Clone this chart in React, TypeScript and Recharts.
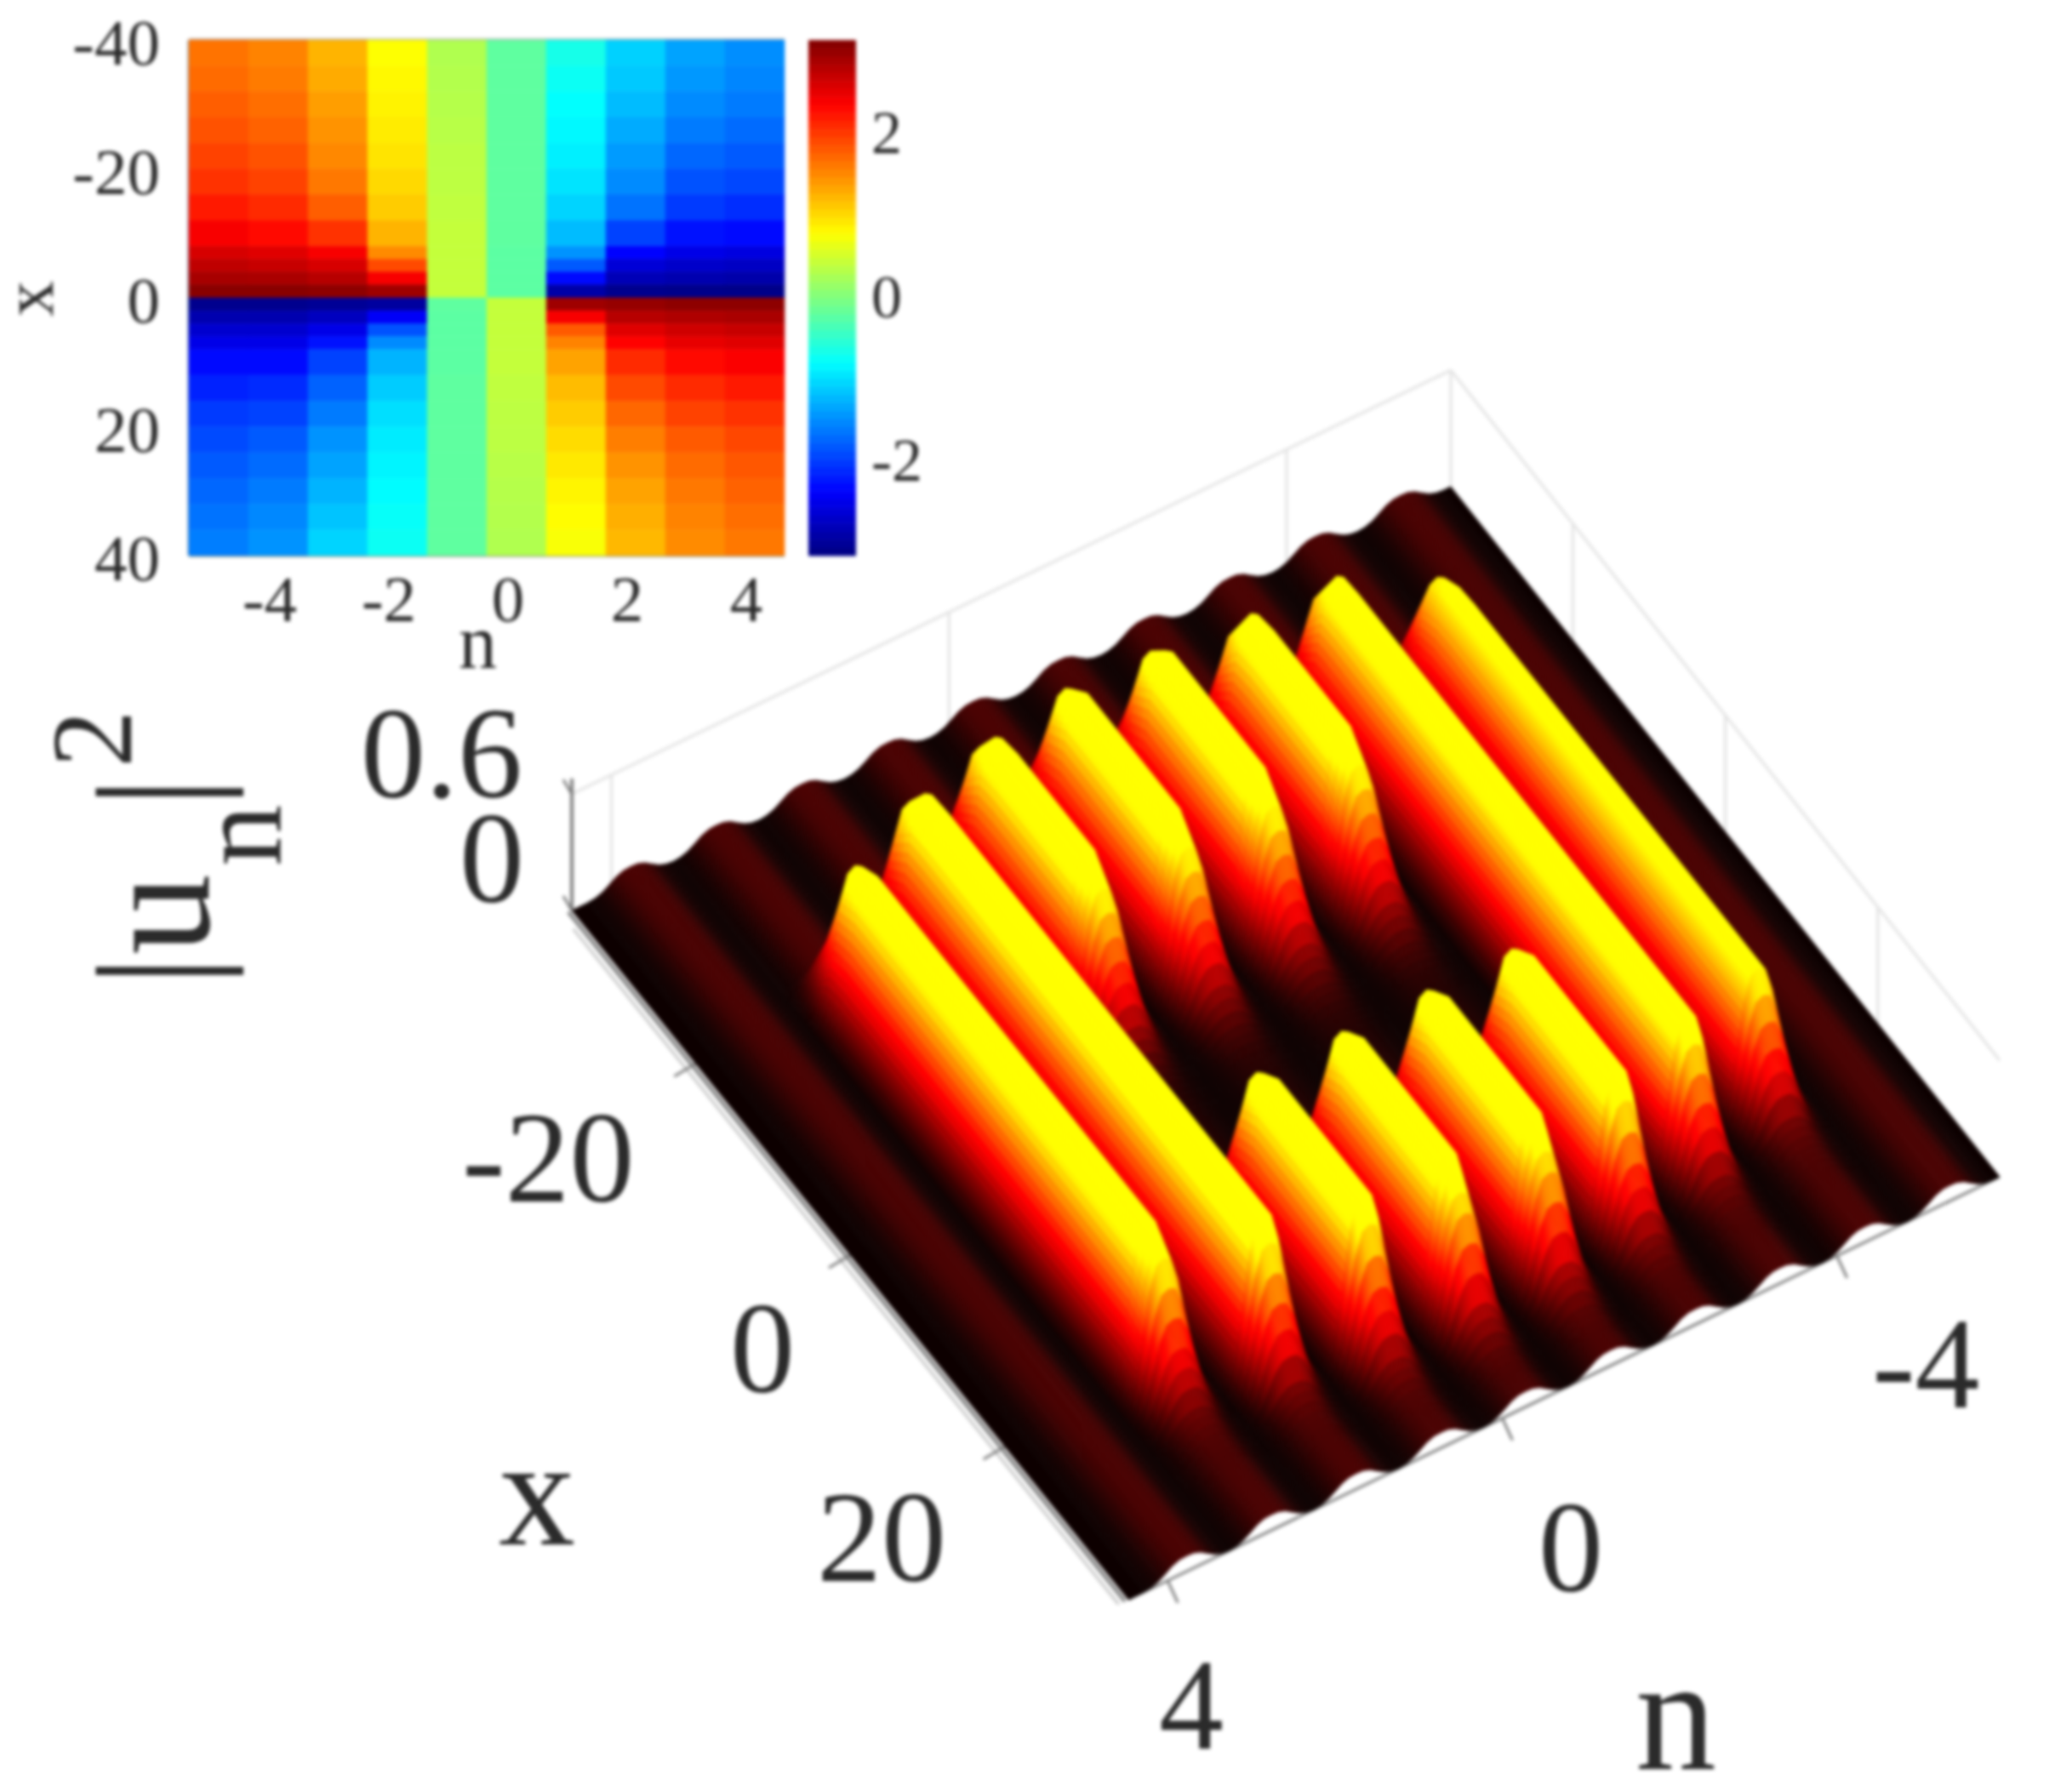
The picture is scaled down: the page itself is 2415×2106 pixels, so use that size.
import {
  ScatterChart,
  Scatter,
  XAxis,
  YAxis,
  ReferenceLine,
} from 'recharts';

// phase map: x rows (centre, height) and one column of phase per lattice site
const phaseRowX = [-38, -34, -30, -26, -22, -18, -14, -10, -7, -5, -3, -1, 1, 3, 5, 7, 10, 14, 18, 22, 26, 30, 34, 38];
const phaseRowH = [4, 4, 4, 4, 4, 4, 4, 4, 2, 2, 2, 2, 2, 2, 2, 2, 4, 4, 4, 4, 4, 4, 4, 4];
const phaseSites = [-5, -4, -3, -2, -1, 0, 1, 2, 3, 4];
const phaseColumns = [
  [1.65, 1.7, 1.78, 1.85, 1.95, 2.05, 2.2, 2.4, 2.6, 2.75, 2.9, 3.08, -3.05, -2.85, -2.65, -2.5, -2.3, -2.15, -2.0, -1.9, -1.8, -1.72, -1.65, -1.58],
  [1.55, 1.6, 1.68, 1.75, 1.85, 1.95, 2.1, 2.3, 2.55, 2.7, 2.88, 3.08, -3.05, -2.85, -2.65, -2.5, -2.3, -2.1, -1.95, -1.8, -1.7, -1.6, -1.52, -1.45],
  [1.25, 1.3, 1.38, 1.45, 1.52, 1.62, 1.78, 2.05, 2.4, 2.6, 2.8, 3.05, -3.0, -2.75, -2.5, -2.25, -1.95, -1.75, -1.6, -1.45, -1.35, -1.25, -1.15, -1.05],
  [0.78, 0.82, 0.86, 0.9, 0.95, 1.02, 1.1, 1.25, 1.5, 1.9, 2.4, 2.95, -2.95, -2.4, -1.85, -1.5, -1.25, -1.1, -0.98, -0.9, -0.85, -0.8, -0.75, -0.72],
  [0.3, 0.32, 0.33, 0.35, 0.37, 0.38, 0.4, 0.42, 0.42, 0.42, 0.42, 0.42, -0.2, -0.22, -0.22, -0.22, -0.22, -0.2, -0.2, -0.2, -0.2, -0.2, -0.2, -0.2],
  [-0.2, -0.2, -0.2, -0.2, -0.2, -0.2, -0.2, -0.2, -0.22, -0.22, -0.22, -0.22, 0.42, 0.42, 0.42, 0.42, 0.42, 0.4, 0.38, 0.37, 0.35, 0.33, 0.32, 0.3],
  [-0.65, -0.72, -0.78, -0.82, -0.88, -0.95, -1.05, -1.2, -1.45, -1.8, -2.3, -2.9, 2.95, 2.4, 1.8, 1.55, 1.35, 1.2, 1.1, 1.0, 0.92, 0.85, 0.8, 0.75],
  [-1.07, -1.12, -1.2, -1.3, -1.4, -1.5, -1.65, -1.95, -2.35, -2.6, -2.8, -3.05, 3.0, 2.8, 2.55, 2.35, 2.1, 1.9, 1.72, 1.58, 1.45, 1.35, 1.28, 1.22],
  [-1.35, -1.42, -1.5, -1.6, -1.72, -1.85, -2.0, -2.25, -2.5, -2.68, -2.85, -3.07, 3.05, 2.85, 2.65, 2.5, 2.3, 2.1, 1.95, 1.8, 1.7, 1.62, 1.55, 1.5],
  [-1.48, -1.53, -1.6, -1.7, -1.8, -1.92, -2.08, -2.3, -2.55, -2.72, -2.88, -3.08, 3.05, 2.88, 2.7, 2.55, 2.38, 2.2, 2.05, 1.92, 1.82, 1.75, 1.68, 1.62],
];
const phaseTicksN = [-4, -2, 0, 2, 4];
const phaseTicksX = [-40, -20, 0, 20, 40];
const phaseBarTicks = [-2, 0, 2];

// surface: peak |u_n|^2 of each site (n = 4 down to -5) along x
const surfaceX = [-36, -34, -32, -30, -28, -26, -24, -22, -20, -18, -16, -14, -12, -10, -8, -6, -4, -2, 0, 2, 4, 6, 8, 10, 12, 14, 16, 18, 20, 22, 24, 26, 28, 30, 32, 34, 36];
const surfaceRows = [
  [0.08, 0.08, 0.08, 0.08, 0.08, 0.08, 0.08, 0.08, 0.08, 0.08, 0.08, 0.08, 0.08, 0.08, 0.08, 0.08, 0.08, 0.08, 0.08, 0.08, 0.08, 0.08, 0.08, 0.08, 0.08, 0.08, 0.08, 0.08, 0.08, 0.08, 0.08, 0.08, 0.08, 0.08, 0.08, 0.08, 0.08],
  [0.08, 0.08, 0.08, 0.08, 0.08, 0.08, 0.08, 0.08, 0.36, 0.76, 0.81, 0.81, 0.81, 0.81, 0.81, 0.81, 0.81, 0.81, 0.81, 0.81, 0.81, 0.81, 0.81, 0.81, 0.81, 0.81, 0.81, 0.81, 0.81, 0.71, 0.34, 0.13, 0.09, 0.08, 0.08, 0.08, 0.08],
  [0.08, 0.08, 0.08, 0.08, 0.08, 0.08, 0.2, 0.68, 0.82, 0.83, 0.83, 0.83, 0.83, 0.83, 0.83, 0.83, 0.83, 0.83, 0.83, 0.83, 0.83, 0.83, 0.83, 0.83, 0.83, 0.83, 0.83, 0.83, 0.83, 0.83, 0.83, 0.46, 0.15, 0.09, 0.08, 0.08, 0.08],
  [0.08, 0.08, 0.08, 0.08, 0.08, 0.25, 0.65, 0.8, 0.82, 0.82, 0.82, 0.82, 0.82, 0.82, 0.71, 0.43, 0.19, 0.08, 0.04, 0.03, 0.03, 0.03, 0.03, 0.3, 0.75, 0.82, 0.82, 0.82, 0.82, 0.82, 0.82, 0.82, 0.43, 0.16, 0.09, 0.08, 0.08],
  [0.08, 0.08, 0.08, 0.08, 0.08, 0.38, 0.74, 0.82, 0.82, 0.82, 0.82, 0.82, 0.82, 0.82, 0.71, 0.43, 0.19, 0.08, 0.04, 0.03, 0.03, 0.03, 0.03, 0.3, 0.75, 0.82, 0.82, 0.82, 0.82, 0.82, 0.82, 0.82, 0.6, 0.23, 0.1, 0.08, 0.08],
  [0.08, 0.08, 0.08, 0.08, 0.08, 0.35, 0.72, 0.82, 0.82, 0.82, 0.82, 0.82, 0.82, 0.82, 0.71, 0.43, 0.19, 0.08, 0.04, 0.03, 0.03, 0.03, 0.03, 0.3, 0.75, 0.82, 0.82, 0.82, 0.82, 0.82, 0.82, 0.82, 0.6, 0.23, 0.1, 0.08, 0.08],
  [0.08, 0.08, 0.08, 0.08, 0.08, 0.2, 0.62, 0.8, 0.82, 0.82, 0.82, 0.82, 0.82, 0.82, 0.71, 0.43, 0.19, 0.08, 0.04, 0.03, 0.03, 0.03, 0.03, 0.3, 0.75, 0.82, 0.82, 0.82, 0.82, 0.82, 0.82, 0.82, 0.43, 0.16, 0.09, 0.08, 0.08],
  [0.08, 0.08, 0.08, 0.08, 0.08, 0.15, 0.6, 0.78, 0.79, 0.79, 0.79, 0.79, 0.79, 0.79, 0.79, 0.79, 0.79, 0.79, 0.79, 0.79, 0.79, 0.79, 0.79, 0.79, 0.79, 0.79, 0.79, 0.79, 0.79, 0.79, 0.79, 0.43, 0.15, 0.09, 0.08, 0.08, 0.08],
  [0.08, 0.08, 0.08, 0.08, 0.08, 0.08, 0.08, 0.38, 0.66, 0.71, 0.72, 0.72, 0.72, 0.72, 0.72, 0.72, 0.72, 0.72, 0.72, 0.72, 0.72, 0.72, 0.72, 0.72, 0.72, 0.72, 0.72, 0.72, 0.72, 0.72, 0.4, 0.14, 0.09, 0.08, 0.08, 0.08, 0.08],
  [0.08, 0.08, 0.08, 0.08, 0.08, 0.08, 0.08, 0.08, 0.08, 0.08, 0.08, 0.08, 0.08, 0.08, 0.08, 0.08, 0.08, 0.08, 0.08, 0.08, 0.08, 0.08, 0.08, 0.08, 0.08, 0.08, 0.08, 0.08, 0.08, 0.08, 0.08, 0.08, 0.08, 0.08, 0.08, 0.08, 0.08],
];
// share of a site's peak across the site, edge to edge
const siteProfile = [0, 0.06, 0.22, 0.5, 0.8, 0.97, 1, 0.97, 0.8, 0.5, 0.22, 0.06, 0];
const surfaceTicksX = [-20, 0, 20];
const surfaceTicksN = [-4, 0, 4];
const surfaceTicksZ = [0, 0.6];

const FONT = '"Liberation Serif", serif';
const TEXT = '#2b2b2b';

// screen corners of the surface floor
const A = [672, 1070]; // n max, x min
const B = [1326, 1880]; // n max, x max
const C = [2350, 1383]; // n min, x max
const D = [1705, 572]; // n min, x min
const Z_PX = 228;
const BAND_STEPS = 5;
const X_STEPS = 3;

function project(s: number, t: number, z: number) {
  const sx = A[0] * (1 - s) * (1 - t) + B[0] * (1 - s) * t + D[0] * s * (1 - t) + C[0] * s * t;
  const sy = A[1] * (1 - s) * (1 - t) + B[1] * (1 - s) * t + D[1] * s * (1 - t) + C[1] * s * t;
  return { sx, sy: sy - z * Z_PX };
}
const xToT = (x: number) => (x + 36) / 72;
const nToS = (n: number) => (4.47 - n) * 0.096;

function hot(f: number) {
  const r = Math.min(1, 0.05 + f / 0.375);
  const g = Math.max(0, Math.min(1, (f - 0.375) / 0.375));
  return `rgb(${Math.round(r * 255)},${Math.round(g * 255)},0)`;
}

function jet(v: number) {
  const f = (v + Math.PI) / (2 * Math.PI);
  const ramp = (c: number) => Math.max(0, Math.min(1, 1.5 - Math.abs(4 * f - c)));
  return `rgb(${Math.round(ramp(3) * 255)},${Math.round(ramp(2) * 255)},${Math.round(ramp(1) * 255)})`;
}

// one quad of the surface, from its two x ends on two columns
function pushCell(cells: any[], sNear: number, sFar: number, x0: number, x1: number, z: number[]) {
  const corners = [
    project(sNear, xToT(x0), z[0]),
    project(sNear, xToT(x1), z[1]),
    project(sFar, xToT(x1), z[2]),
    project(sFar, xToT(x0), z[3]),
  ];
  const mean = (z[0] + z[1] + z[2] + z[3]) / 4;
  const { sx, sy } = corners[0];
  cells.push({
    sx,
    sy,
    fill: hot(Math.min(0.75, (0.92 * mean) / 0.83)),
    offsets: corners.map((p) => `${(p.sx - sx).toFixed(1)},${(p.sy - sy).toFixed(1)}`).join(' '),
  });
}

// painter's order: far site first, low x first
function buildSurfaceCells() {
  const cells: any[] = [];
  const first = 0.067 - 0.0973 / 2;
  const last = 0.067 + 0.0973 * 9.5;
  pushCell(cells, last, 1, -36, 36, [0, 0, 0, 0]);
  for (let k = surfaceRows.length - 1; k >= 0; k--) {
    const row = surfaceRows[k];
    for (let band = siteProfile.length - 2; band >= 0; band--) {
      for (let b = BAND_STEPS - 1; b >= 0; b--) {
        const shareAt = (q: number) => siteProfile[band] + (siteProfile[band + 1] - siteProfile[band]) * q;
        const shareNear = shareAt(b / BAND_STEPS);
        const shareFar = shareAt((b + 1) / BAND_STEPS);
        const sAt = (q: number) => 0.067 + 0.0973 * (k + (band + q - 6) / 12);
        const sNear = sAt(b / BAND_STEPS);
        const sFar = sAt((b + 1) / BAND_STEPS);
        let i = 0;
        while (i < row.length - 1) {
          if (row[i] === row[i + 1]) {
            let j = i + 1;
            while (j < row.length - 1 && row[j + 1] === row[i]) j++;
            pushCell(cells, sNear, sFar, surfaceX[i], surfaceX[j], [
              row[i] * shareNear,
              row[i] * shareNear,
              row[i] * shareFar,
              row[i] * shareFar,
            ]);
            i = j;
          } else {
            for (let q = 0; q < X_STEPS; q++) {
              const span = surfaceX[i + 1] - surfaceX[i];
              const p0 = row[i] + ((row[i + 1] - row[i]) * q) / X_STEPS;
              const p1 = row[i] + ((row[i + 1] - row[i]) * (q + 1)) / X_STEPS;
              pushCell(cells, sNear, sFar, surfaceX[i] + (span * q) / X_STEPS, surfaceX[i] + (span * (q + 1)) / X_STEPS, [
                p0 * shareNear,
                p1 * shareNear,
                p1 * shareFar,
                p0 * shareFar,
              ]);
            }
            i++;
          }
        }
      }
    }
  }
  pushCell(cells, 0, first, -36, 36, [0, 0, 0, 0]);
  return cells;
}

const surfaceCells = buildSurfaceCells();

const phaseCells = phaseSites.flatMap((n, c) =>
  phaseRowX.map((x, r) => ({ n, x, height: phaseRowH[r], phase: phaseColumns[c][r] })),
);
const barLevels = Array.from({ length: 64 }, (_, i) => -Math.PI + ((i + 0.5) * 2 * Math.PI) / 64);

const PHASE_W = 700;
const PHASE_H = 606;

function SurfaceCell(props: any) {
  const { cx, cy, payload } = props;
  return (
    <polygon
      transform={`translate(${cx},${cy})`}
      points={payload.offsets}
      fill={payload.fill}
      stroke={payload.fill}
      strokeWidth={0.8}
    />
  );
}

function PhaseCell(props: any) {
  const { cx, cy, payload } = props;
  const w = PHASE_W / 10;
  const h = (payload.height * PHASE_H) / 80;
  const fill = jet(payload.phase);
  return <rect x={cx - w / 2} y={cy - h / 2} width={w} height={h} fill={fill} stroke={fill} strokeWidth={0.5} />;
}

function BarLevel(props: any) {
  const { cx, cy, payload } = props;
  const h = PHASE_H / 64;
  const fill = jet(payload.level);
  return <rect x={cx - 28} y={cy - h / 2} width={56} height={h + 0.5} fill={fill} />;
}

function seg(a: { sx: number; sy: number }, b: { sx: number; sy: number }) {
  return [
    { x: a.sx, y: a.sy },
    { x: b.sx, y: b.sy },
  ] as any;
}

function Big({ x, y, size = 152, children }: any) {
  return (
    <text x={x} y={y} fontSize={size} fontFamily={FONT} fill={TEXT}>
      {children}
    </text>
  );
}

function Turned({ x, y, size, children }: any) {
  return (
    <text x={x} y={y} fontSize={size} fontFamily={FONT} fill={TEXT} transform={`rotate(-90 ${x} ${y})`}>
      {children}
    </text>
  );
}

function SurfaceChart() {
  const grid = '#e2e2e2';
  const axis = '#7d7d7d';
  return (
    <ScatterChart width={2415} height={2106} margin={{ top: 0, right: 0, bottom: 0, left: 0 }}>
      <XAxis type="number" dataKey="sx" domain={[0, 2415]} hide />
      <YAxis type="number" dataKey="sy" domain={[0, 2106]} reversed hide />
      {/* back walls */}
      <ReferenceLine segment={seg(project(0, 0, 0.6), project(1, 0, 0.6))} stroke={grid} strokeWidth={3} />
      <ReferenceLine segment={seg(project(1, 0, 0.6), project(1, 1, 0.6))} stroke={grid} strokeWidth={3} />
      <ReferenceLine segment={seg(project(0, 0, 0), project(1, 0, 0))} stroke={grid} strokeWidth={3} />
      <ReferenceLine segment={seg(project(1, 0, 0), project(1, 0, 0.6))} stroke={grid} strokeWidth={3} />
      {surfaceTicksN.map((n) => (
        <ReferenceLine key={n} segment={seg(project(nToS(n), 0, 0), project(nToS(n), 0, 0.6))} stroke={grid} strokeWidth={3} />
      ))}
      {surfaceTicksX.map((x) => (
        <ReferenceLine key={x} segment={seg(project(1, xToT(x), 0), project(1, xToT(x), 0.6))} stroke={grid} strokeWidth={3} />
      ))}
      <Scatter data={surfaceCells} shape={SurfaceCell} isAnimationActive={false} />
      {/* box axes */}
      <ReferenceLine segment={seg(project(0, 0, 0), project(0, 0, 0.68))} stroke={axis} strokeWidth={4} />
      <ReferenceLine segment={seg(project(-0.004, 0, 0), project(-0.004, 1, 0))} stroke={axis} strokeWidth={4} />
      <ReferenceLine segment={seg(project(-0.011, 0.02, 0), project(-0.011, 1, 0))} stroke="#c4c4c4" strokeWidth={3} />
      <ReferenceLine segment={seg(project(0, 1, 0), project(1, 1, 0))} stroke={axis} strokeWidth={3} />
      {surfaceTicksZ.map((z) => {
        const p = project(0, 0, z);
        return <ReferenceLine key={z} segment={seg(p, { sx: p.sx - 10, sy: p.sy - 17 })} stroke={axis} strokeWidth={3} />;
      })}
      {surfaceTicksX.map((x) => {
        const p = project(0, xToT(x), 0);
        return <ReferenceLine key={x} segment={seg(p, { sx: p.sx - 25, sy: p.sy + 15 })} stroke={axis} strokeWidth={3} />;
      })}
      {surfaceTicksN.map((n) => {
        const p = project(nToS(n), 1, 0);
        return <ReferenceLine key={n} segment={seg(p, { sx: p.sx + 12, sy: p.sy + 26 })} stroke={axis} strokeWidth={3} />;
      })}
      <Big x={424} y={937}>0.6</Big>
      <Big x={540} y={1060}>0</Big>
      <Big x={543} y={1412}>-20</Big>
      <Big x={858} y={1636}>0</Big>
      <Big x={960} y={1858}>20</Big>
      <Big x={586} y={1815} size={180}>x</Big>
      <Big x={1362} y={2055}>4</Big>
      <Big x={1808} y={1870}>0</Big>
      <Big x={2200} y={1654}>-4</Big>
      <Big x={1922} y={2079} size={190}>n</Big>
      <Turned x={245} y={1160} size={190}>|u</Turned>
      <Turned x={330} y={1018} size={145}>n</Turned>
      <Turned x={245} y={950} size={190}>|</Turned>
      <Turned x={154} y={902} size={135}>2</Turned>
    </ScatterChart>
  );
}

function PhaseChart() {
  const tick = { fontSize: 77, fill: TEXT, fontFamily: FONT };
  return (
    <ScatterChart width={960} height={800} margin={{ top: 47, right: 38, bottom: 0, left: 0 }}>
      <XAxis
        type="number"
        dataKey="n"
        domain={[-5.5, 4.5]}
        ticks={phaseTicksN}
        interval={0}
        height={147}
        tick={{ ...tick, dx: -10 }}
        tickSize={0}
        tickMargin={22}
        axisLine={{ stroke: '#8a8f78', strokeWidth: 3 }}
      />
      <YAxis
        type="number"
        dataKey="x"
        domain={[-40, 40]}
        reversed
        ticks={phaseTicksX}
        interval={0}
        width={222}
        tick={{ ...tick, dy: 2 }}
        tickSize={0}
        tickMargin={34}
        axisLine={{ stroke: '#6f8fa8', strokeWidth: 3 }}
      />
      <Scatter data={phaseCells} shape={PhaseCell} isAnimationActive={false} />
      <ReferenceLine y={-40} stroke="#b9b9b9" strokeWidth={4} />
      <Turned x={62} y={372} size={84}>x</Turned>
      <text x={539} y={785} fontSize={90} fontFamily={FONT} fill={TEXT}>
        n
      </text>
    </ScatterChart>
  );
}

function PhaseBar() {
  const data = barLevels.map((level) => ({ pos: 0, level }));
  return (
    <ScatterChart width={150} height={800} margin={{ top: 47, right: 0, bottom: 147, left: 0 }}>
      <XAxis type="number" dataKey="pos" domain={[-1, 1]} hide />
      <YAxis
        type="number"
        dataKey="level"
        domain={[-Math.PI, Math.PI]}
        orientation="right"
        ticks={phaseBarTicks}
        interval={0}
        width={94}
        tick={{ fontSize: 72, fill: TEXT, fontFamily: FONT, dy: -3 }}
        tickSize={0}
        tickMargin={18}
        axisLine={false}
      />
      <Scatter data={data} shape={BarLevel} isAnimationActive={false} />
    </ScatterChart>
  );
}

export default function App() {
  return (
    <div style={{ position: 'absolute', left: 0, top: 0, width: 2415, height: 2106, background: '#fff', filter: 'blur(2px)' }}>
      <div style={{ position: 'absolute', left: 0, top: 0 }}>
        <SurfaceChart />
      </div>
      <div style={{ position: 'absolute', left: 0, top: 0 }}>
        <PhaseChart />
      </div>
      <div style={{ position: 'absolute', left: 950, top: 0 }}>
        <PhaseBar />
      </div>
    </div>
  );
}
